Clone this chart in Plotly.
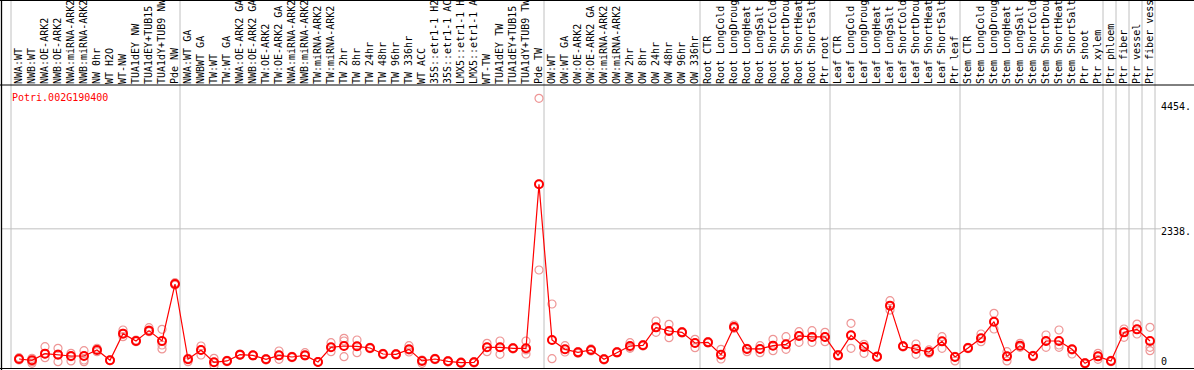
import plotly.graph_objects as go

# ---------------- data ----------------
categories = [
    "NWA:WT", "NWB:WT", "NWA:OE-ARK2", "NWB:OE-ARK2", "NWA:miRNA-ARK2", "NWB:miRNA-ARK2",
    "NW 0hr", "WT H2O", "WT-NW", "TUA1dEY NW", "TUA1dEY+TUB15", "TUA1dY+TUB9 NW", "Pde NW",
    "NWA:WT GA", "NWBWT GA", "TW:WT", "TW:WT GA", "NWA:OE-ARK2 GA", "NWB:OE-ARK2 GA",
    "TW:OE-ARK2", "TW:OE-ARK2 GA", "NWA:miRNA-ARK2", "NWB:miRNA-ARK2", "TW:miRNA-ARK2",
    "TW:miRNA-ARK2", "TW 2hr", "TW 8hr", "TW 24hr", "TW 48hr", "TW 96hr", "TW 336hr", "WT ACC",
    "35S::etr1-1 H2", "35S::etr1-1 AC", "LMX5::etr1-1 H", "LMX5::etr1-1 A", "WT-TW",
    "TUA1dEY TW", "TUA1dEY+TUB15", "TUA1dY+TUB9 TW", "Pde TW",
    "OW:WT", "OW:WT GA", "OW:OE-ARK2", "OW:OE-ARK2 GA", "OW:miRNA-ARK2", "OW:miRNA-ARK2",
    "OW 2hr", "OW 8hr", "OW 24hr", "OW 48hr", "OW 96hr", "OW 336hr",
    "Root CTR", "Root LongCold", "Root LongDroug", "Root LongHeat", "Root LongSalt",
    "Root ShortCold", "Root ShortDrou", "Root ShortHeat", "Root ShortSalt", "Ptr root",
    "Leaf CTR", "Leaf LongCold", "Leaf LongDroug", "Leaf LongHeat", "Leaf LongSalt",
    "Leaf ShortCold", "Leaf ShortDrou", "Leaf ShortHeat", "Leaf ShortSalt", "Ptr leaf",
    "Stem CTR", "Stem LongCold", "Stem LongDroug", "Stem LongHeat", "Stem LongSalt",
    "Stem ShortCold", "Stem ShortDrou", "Stem ShortHeat", "Stem ShortSalt", "Ptr shoot",
    "Ptr xylem", "Ptr phloem", "Ptr fiber", "Ptr vessel", "Ptr fiber vess",
]

mean_values = [
    135, 113, 226, 209, 186, 186, 288, 113, 564, 440, 615, 440, 1404,
    130, 288, 79, 102, 209, 197, 130, 197, 169, 197, 85, 333, 355, 350, 321, 220, 214, 299,
    102, 135, 96, 73, 79, 333, 333, 316, 316, 3091,
    457, 299, 248, 288, 130, 248, 355, 367, 671, 609, 586, 406,
    417, 209, 677, 305, 305, 361, 383, 525, 508, 508,
    197, 536, 338, 175, 1038, 350, 305, 254, 434, 169,
    321, 485, 767, 180, 361, 186, 440, 440, 299, 62, 180,
    102, 586, 637, 440,
]

rep1 = [
    158, 147, 344, 316, 231, 276, 316, 118, 626, 457, 665, 637, 1427,
    90, 355, 147, 102, 220, 203, 130, 271, 169, 242, 90, 411, 485, 457, 321, 220, 214, 361,
    62, 135, 96, 73, 79, 400, 440, 316, 440, 4546,
    1066, 361, 231, 288, 130, 248, 411, 367, 778, 722, 586, 468,
    417, 299, 711, 316, 361, 468, 513, 598, 615, 586,
    197, 739, 383, 186, 1122, 350, 389, 288, 513, 102,
    321, 558, 908, 259, 400, 186, 541, 626, 220, 62, 231,
    102, 643, 727, 671,
]

rep2 = [
    130, 90, 158, 90, 102, 118, 259, 113, 513, 428, 598, 372, 1387,
    147, 203, 23, 90, 209, 197, 141, 130, 180, 186, 85, 259, 440, 242, 333, 209, 226, 288,
    118, 147, 107, 62, 90, 259, 214, 327, 220, 1641,
    141, 299, 259, 305, 118, 259, 333, 378, 586, 496, 598, 327,
    428, 135, 677, 259, 242, 276, 299, 417, 417, 428,
    209, 316, 231, 175, 964, 361, 214, 254, 316, 169,
    333, 428, 643, 102, 361, 197, 333, 333, 299, 73, 130,
    113, 502, 558, 333,
]

rep3 = [
    118, 62, 220, 220, 175, 90, 288, 107, 570, 440, 626, 305, 1404,
    130, 288, 79, 113, 197, 186, 118, 197, 158, 197, 79, 333, 175, 350, 310, 231, 203, 254,
    113, 124, 85, 85, 68, 333, 333, 305, 288, 3096,
    457, 254, 248, 271, 141, 237, 316, 355, 671, 609, 575, 406,
    406, 209, 654, 305, 305, 361, 383, 525, 508, 508,
    186, 536, 338, 163, 1038, 338, 305, 231, 434, 180,
    310, 485, 767, 180, 333, 175, 440, 372, 288, 51, 180,
    90, 586, 637, 276,
]

# group boundaries (index of first category of each block) and ticks
group_starts = [0, 13, 41, 53, 63, 73, 84, 85, 86, 87, 88]
y_ticks = [0, 2338, 4454]
y_ticktext = ["0", "2338.", "4454."]
gene_id = "Potri.002G190400"

# ---------------- figure ----------------
W, H = 1194, 370
L, R, T, B = 2, 34, 85, 1
plot_w = W - L - R
plot_h = H - T - B
px_per_cat = 13.0
x0 = -17.0 / px_per_cat
x_range = [x0, x0 + plot_w / px_per_cat]
y_range = [-34, 4772]

xs = list(range(len(categories)))
rep_x = xs * 3
rep_y = rep1 + rep2 + rep3

fig = go.Figure()
fig.add_trace(go.Scatter(
    x=rep_x, y=rep_y, mode="markers",
    marker=dict(symbol="circle-open", size=8, color="rgb(238,150,150)",
                line=dict(width=1.2, color="rgb(238,150,150)")),
    hoverinfo="skip", showlegend=False,
))
fig.add_trace(go.Scatter(
    x=xs, y=mean_values, mode="lines+markers",
    line=dict(color="#ff0000", width=1.2),
    marker=dict(symbol="circle-open", size=8, color="#ff0000",
                line=dict(width=2, color="#ff0000")),
    showlegend=False,
))
# invisible trace to activate the secondary right axis (label for 0)
fig.add_trace(go.Scatter(x=[xs[0]], y=[y_ticks[0]], yaxis="y2", mode="markers",
                         marker=dict(opacity=0), hoverinfo="skip", showlegend=False))

def paper_x(px):
    return (px - L) / plot_w

def paper_y(py):
    return (H - B - py) / plot_h

shapes = []
# vertical grey separators spanning the full height
for g in group_starts:
    xv = g - 8.0 / px_per_cat
    shapes.append(dict(type="line", xref="x", yref="paper", x0=xv, x1=xv,
                       y0=paper_y(H - B), y1=paper_y(0), layer="below",
                       line=dict(color="#c0c0c0", width=1)))
# horizontal grey grid line at the middle tick
shapes.append(dict(type="line", xref="paper", yref="y", x0=0, x1=paper_x(1161),
                   y0=y_ticks[1], y1=y_ticks[1], layer="below",
                   line=dict(color="#c0c0c0", width=1)))
# black frame lines
for py in (0.5, 85, 368.5):
    shapes.append(dict(type="line", xref="paper", yref="paper",
                       x0=paper_x(0), x1=paper_x(W), y0=paper_y(py), y1=paper_y(py),
                       line=dict(color="black", width=1)))
shapes.append(dict(type="line", xref="paper", yref="paper",
                   x0=paper_x(1.5), x1=paper_x(1.5), y0=paper_y(H), y1=paper_y(0),
                   line=dict(color="black", width=1.3)))

mono = "DejaVu Sans Mono"
fig.update_layout(
    width=W, height=H,
    margin=dict(l=L, r=R, t=T, b=B, autoexpand=False),
    paper_bgcolor="white", plot_bgcolor="white",
    shapes=shapes,
    xaxis=dict(range=x_range, side="top", tickmode="array", tickvals=xs,
               ticktext=categories, tickangle=-90, ticks="", showgrid=False,
               zeroline=False, showline=False, automargin=False,
               tickfont=dict(family=mono, size=10, color="black")),
    yaxis=dict(range=y_range, side="right", tickmode="array", tickvals=y_ticks[1:],
               ticktext=y_ticktext[1:], ticks="", showgrid=False, zeroline=False,
               showline=False, automargin=False, ticklabelshift=3,
               tickfont=dict(family=mono, size=10, color="black")),
    yaxis2=dict(range=y_range, overlaying="y", side="right", anchor="x",
                tickmode="array", tickvals=y_ticks[:1], ticktext=y_ticktext[:1], ticks="",
                showgrid=False, zeroline=False, showline=False, automargin=False,
                ticklabelshift=-5,
                tickfont=dict(family=mono, size=10, color="black")),
    annotations=[dict(text=gene_id, xref="paper", yref="paper",
                      x=paper_x(9.5), y=paper_y(97), xanchor="left", yanchor="middle",
                      showarrow=False, font=dict(family=mono, size=10, color="#ff0000"))],
)

fig.write_html(
    "out.html",
    config={"displayModeBar": False},
    post_script="document.body.style.margin='0';document.body.style.padding='0';"
                "document.documentElement.style.overflow='hidden';",
)
